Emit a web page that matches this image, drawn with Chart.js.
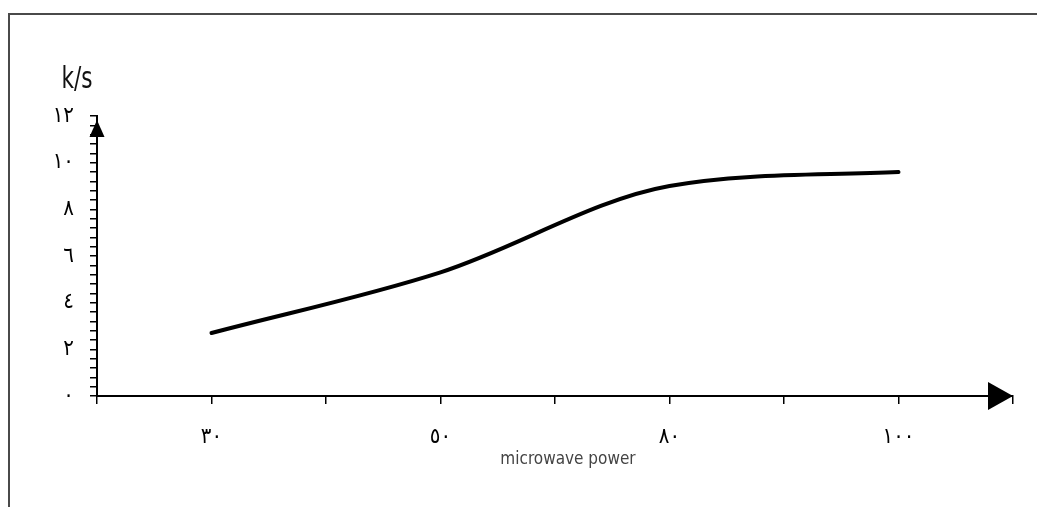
<!DOCTYPE html>
<html>
<head>
<meta charset="utf-8">
<script src="https://cdn.jsdelivr.net/npm/chart.js@4"></script>
<style>
  html, body { margin: 0; padding: 0; background: #fff; overflow: hidden; }
  #frame { position: absolute; left: 8px; top: 13px; width: 1100px; height: 600px; border: 2px solid #4a4a4a; }
  #wrap { position: absolute; left: 0; top: 0; width: 1037px; height: 507px; }
</style>
</head>
<body>
<div id="frame"></div>
<div id="wrap"><canvas id="powerChart"></canvas></div>
<script>
// data
const categories = ['٣٠', '٥٠', '٨٠', '١٠٠'];
const rateValues = [2.7, 5.3, 9.0, 9.6];
const yTickLabels = ['٠', '٢', '٤', '٦', '٨', '١٠', '١٢'];
const yTitle = 'k/s';
const xTitle = 'microwave power';

const labelFont = "'DejaVu Sans Condensed', 'DejaVu Sans', sans-serif";

// arrows on the axis ends + the two titles
const axisDecor = {
    id: 'axisDecor',
    afterDraw(chart) {
        const { ctx, chartArea: a } = chart;
        ctx.save();
        ctx.fillStyle = '#000';
        // x arrow
        ctx.beginPath();
        ctx.moveTo(a.right, a.bottom);
        ctx.lineTo(a.right - 25, a.bottom - 14);
        ctx.lineTo(a.right - 25, a.bottom + 14);
        ctx.closePath();
        ctx.fill();
        // y arrow
        ctx.beginPath();
        ctx.moveTo(a.left, a.top + 4);
        ctx.lineTo(a.left - 7.5, a.top + 21);
        ctx.lineTo(a.left + 7.5, a.top + 21);
        ctx.closePath();
        ctx.fill();

        // k/s, narrow and tall like the original
        ctx.fillStyle = '#111';
        ctx.textAlign = 'center';
        ctx.textBaseline = 'alphabetic';
        ctx.save();
        ctx.translate(77, 88);
        ctx.scale(0.8, 1);
        ctx.font = '30px ' + labelFont;
        ctx.fillText(yTitle, 0, 0);
        ctx.restore();

        ctx.fillStyle = '#444';
        ctx.font = '17px ' + labelFont;
        ctx.fillText(xTitle, 568, 464);
        ctx.restore();
    }
};

function initPowerChart() {
    const ctx = document.getElementById('powerChart').getContext('2d');
    new Chart(ctx, {
        type: 'line',
        data: {
            datasets: [{
                data: categories.map((c, i) => ({ x: i * 2 + 1, y: rateValues[i] })),
                borderColor: '#000',
                borderWidth: 4,
                borderCapStyle: 'round',
                pointRadius: 0,
                cubicInterpolationMode: 'monotone',
                fill: false
            }]
        },
        options: {
            responsive: true,
            maintainAspectRatio: false,
            animation: false,
            layout: { padding: { left: 0, top: 116, right: 24, bottom: 0 } },
            plugins: {
                legend: { display: false },
                tooltip: { enabled: false }
            },
            scales: {
                x: {
                    type: 'linear',
                    min: 0,
                    max: 8,
                    afterFit(scale) { scale.height = 111; },
                    border: { display: true, color: '#000', width: 2 },
                    grid: { drawOnChartArea: false, drawTicks: true, tickLength: 8, color: '#000', lineWidth: 1.5 },
                    ticks: {
                        stepSize: 1,
                        autoSkip: false,
                        maxRotation: 0,
                        padding: 20,
                        color: '#000',
                        font: { family: labelFont, size: 22 },
                        callback: (v) => (v % 2 === 1 ? categories[(v - 1) / 2] : '')
                    }
                },
                y: {
                    min: 0,
                    max: 12,
                    afterFit(scale) { scale.width = 97; },
                    border: { display: true, color: '#000', width: 2 },
                    grid: { drawOnChartArea: false, drawTicks: true, tickLength: 7, color: '#000', lineWidth: 1.5 },
                    ticks: {
                        stepSize: 0.4,
                        autoSkip: false,
                        padding: 16,
                        color: '#000',
                        font: { family: labelFont, size: 22 },
                        callback: (v) => {
                            const r = Math.round(v);
                            return Math.abs(v - r) < 1e-6 && r % 2 === 0 ? yTickLabels[r / 2] : '';
                        }
                    }
                }
            }
        },
        plugins: [axisDecor]
    });
}

document.addEventListener('DOMContentLoaded', () => {
    initPowerChart();
});
</script>
</body>
</html>
